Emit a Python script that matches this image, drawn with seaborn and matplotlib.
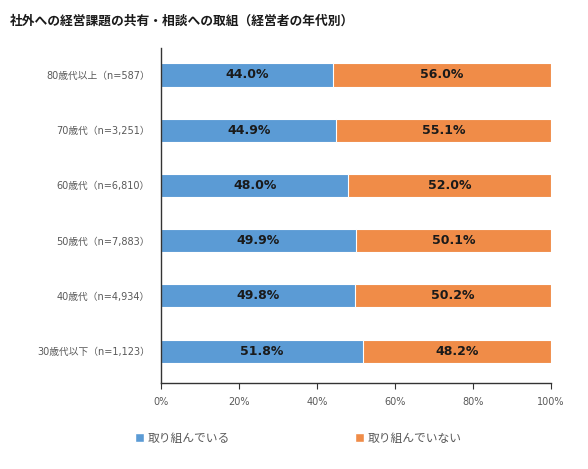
import pandas as pd
import matplotlib
matplotlib.use('Agg')
import matplotlib.pyplot as plt
import seaborn as sns
from matplotlib.patches import Patch

sns.set_theme(style="white")
plt.rcParams['font.family'] = ['DejaVu Sans', 'Noto Sans CJK JP']

categories = ['80歳代以上（n=587）', '70歳代（n=3,251）', '60歳代（n=6,810）',
              '50歳代（n=7,883）', '40歳代（n=4,934）', '30歳代以下（n=1,123）']
doing = [44.0, 44.9, 48.0, 49.9, 49.8, 51.8]
not_doing = [56.0, 55.1, 52.0, 50.1, 50.2, 48.2]
series_names = ['取り組んでいる', '取り組んでいない']

blue = '#5B9BD5'
orange = '#F08C48'

df = pd.DataFrame({'cat': categories, 'doing': doing, 'not_doing': not_doing})
df['total'] = df['doing'] + df['not_doing']

fig = plt.figure(figsize=(5.88, 4.69), dpi=100)
ax = fig.add_axes([0.274, 0.183, 0.663, 0.715])

sns.barplot(data=df, x='total', y='cat', color=orange, width=0.42,
            edgecolor='white', linewidth=0.8, saturation=1, ax=ax, orient='h')
sns.barplot(data=df, x='doing', y='cat', color=blue, width=0.42,
            edgecolor='white', linewidth=0.8, saturation=1, ax=ax, orient='h')

for i, (d, n) in enumerate(zip(doing, not_doing)):
    ax.text(d / 2, i, f'{d:.1f}%', ha='center', va='center',
            fontsize=9, fontweight='bold', color='#1a1a1a')
    ax.text(d + n / 2, i, f'{n:.1f}%', ha='center', va='center',
            fontsize=9, fontweight='bold', color='#1a1a1a')

ax.set_xlim(0, 100)
ax.set_ylim(5.58, -0.49)
ax.set_xticks([0, 20, 40, 60, 80, 100])
ax.set_xticklabels([f'{v}%' for v in [0, 20, 40, 60, 80, 100]], fontsize=7, color='#595959')
ax.tick_params(axis='y', length=0, labelsize=7, labelcolor='#595959', pad=8)
ax.tick_params(axis='x', length=4, width=0.8, color='#333333', bottom=True, direction='out', pad=6)
ax.set_xlabel('')
ax.set_ylabel('')
for s in ['top', 'right']:
    ax.spines[s].set_visible(False)
for s in ['left', 'bottom']:
    ax.spines[s].set_color('#333333')
    ax.spines[s].set_linewidth(1.0)

fig.text(0.017, 0.955, '社外への経営課題の共有・相談への取組（経営者の年代別）',
         fontsize=9.2, fontweight='bold', color='#1a1a1a', va='center')

handles = [Patch(facecolor=blue, edgecolor='white'), Patch(facecolor=orange, edgecolor='white')]
fig.legend(handles, series_names, loc='center left', bbox_to_anchor=(0.212, 0.066), ncol=2,
           frameon=False, fontsize=8.5, handlelength=0.75, handleheight=0.75,
           handletextpad=0.3, columnspacing=10.6, labelcolor='#595959')

fig.savefig('out.png', dpi=100)
